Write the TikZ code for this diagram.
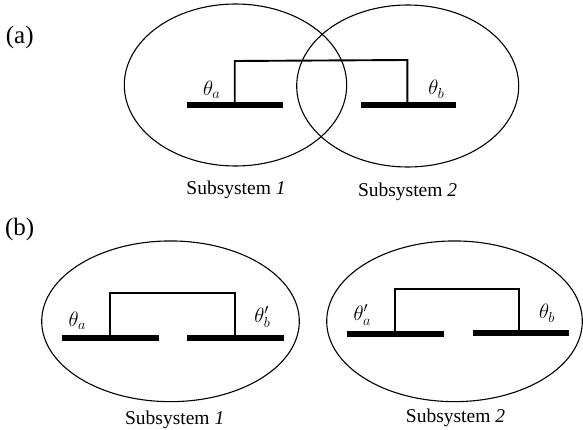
\documentclass[tikz,border=0pt]{standalone}
\usepackage{fontspec}
\setmainfont{Liberation Serif}
\usetikzlibrary{shapes.geometric}
\begin{document}
\begin{tikzpicture}[x=1pt,y=-1pt,
  subsys/.style={draw, ellipse, line width=1.1pt, inner sep=0pt},
  plate/.style={line width=6pt},
  tie/.style={line width=1.9pt, line join=miter},
  angle/.style={font=\fontsize{20}{24}\selectfont, inner sep=0pt},
  caption/.style={font=\fontsize{19.5}{22}\selectfont, inner sep=0pt, anchor=base},
  tag/.style={font=\fontsize{25}{30}\selectfont, inner sep=0pt}]
\useasboundingbox (0,0) rectangle (583,430);

% ---------- panel (a): overlapping subsystems ----------
\node[tag] (tagA) at (19.7,37) {(a)};
\node[subsys, minimum width=222.4pt, minimum height=162pt] (s1a) at (235.5,85) {};
\node[subsys, minimum width=222pt, minimum height=162pt] (s2a) at (407.7,86) {};

\coordinate (a1l) at (187.3,105);  \coordinate (a1r) at (282.7,105);
\coordinate (a2l) at (361,105);    \coordinate (a2r) at (456.3,105);
\coordinate (a1j) at (234.7,105);  \coordinate (a1t) at (234.7,61);
\coordinate (a2j) at (407.3,105);  \coordinate (a2t) at (407.3,60);
\draw[plate] (a1l) -- (a1r);
\draw[plate] (a2l) -- (a2r);
\draw[tie] (a1j) -- (a1t) -- (a2t) -- (a2j);

\node[angle] (thA) at (211.7,90) {$\theta_a$};
\node[angle] (thB) at (436.3,89.3) {$\theta_b$};
\node[caption] (capA1) at (236,195) {Subsystem \textit{1}};
\node[caption] (capA2) at (407.6,197) {Subsystem \textit{2}};

% ---------- panel (b): separated subsystems ----------
\node[tag] (tagB) at (19.7,229) {(b)};
\node[subsys, minimum width=257.6pt, minimum height=160.7pt] (s1b) at (170.5,321.3) {};
\node[subsys, minimum width=255.6pt, minimum height=160.7pt] (s2b) at (454.5,321.3) {};

% subsystem 1
\coordinate (b1l) at (61.7,338.3);  \coordinate (b1r) at (159,338.3);
\coordinate (b2l) at (187.3,337.5); \coordinate (b2r) at (284,337.5);
\coordinate (b1j) at (110,338.3);   \coordinate (b1t) at (110,293.3);
\coordinate (b2j) at (234.7,337.5); \coordinate (b2t) at (234.7,293.3);
\draw[plate] (b1l) -- (b1r);
\draw[plate] (b2l) -- (b2r);
\draw[tie] (b1j) -- (b1t) -- (b2t) -- (b2j);

% subsystem 2
\coordinate (c1l) at (346.7,334);   \coordinate (c1r) at (443.7,334);
\coordinate (c2l) at (473,333.3);   \coordinate (c2r) at (568.7,333.3);
\coordinate (c1j) at (395.2,334);   \coordinate (c1t) at (395.2,289.3);
\coordinate (c2j) at (519,333.3);   \coordinate (c2t) at (519,289.3);
\draw[plate] (c1l) -- (c1r);
\draw[plate] (c2l) -- (c2r);
\draw[tie] (c1j) -- (c1t) -- (c2t) -- (c2j);

\node[angle] (thA1) at (77.3,320.7) {$\theta_a$};
\node[angle] (thB1) at (262.3,317.3) {$\theta'_b$};
\node[angle] (thA2) at (362.3,315) {$\theta'_a$};
\node[angle] (thB2) at (547,313.3) {$\theta_b$};
\node[caption] (capB1) at (174.7,424) {Subsystem \textit{1}};
\node[caption] (capB2) at (455.5,422.7) {Subsystem \textit{2}};
\end{tikzpicture}
\end{document}
